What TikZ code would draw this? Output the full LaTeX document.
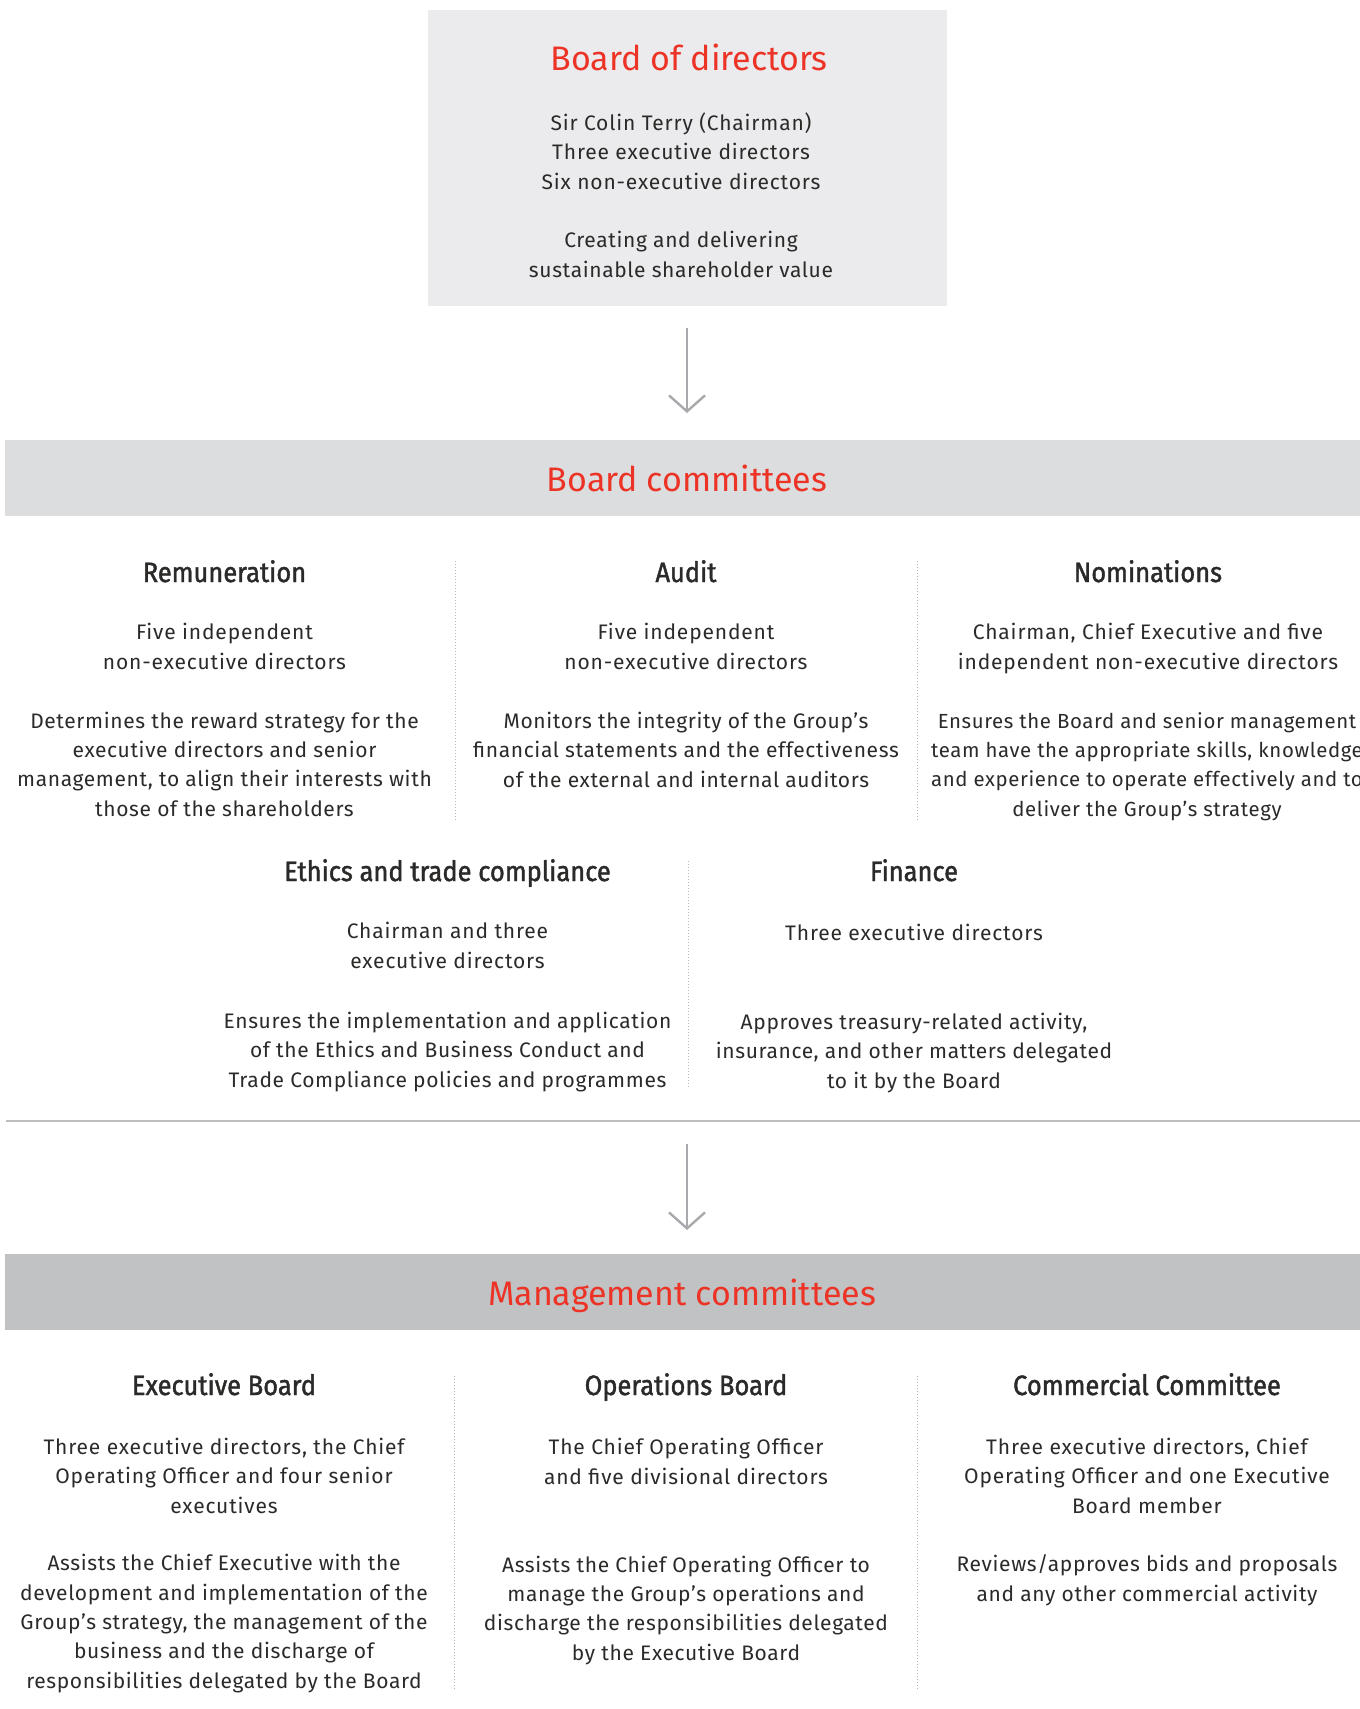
\documentclass[tikz,border=0pt]{standalone}
\usepackage{fontspec}
\setmainfont{Fira Sans}
% weights of the Fira Sans family, with fall-backs
\IfFontExistsTF{FiraSans-Light.otf}
  {\newfontfamily\descfont{FiraSans-Light.otf}[LetterSpace=3.0]}
  {\newfontfamily\descfont{Fira Sans}[LetterSpace=3.0]}
\IfFontExistsTF{FiraSans-Medium.otf}
  {\newfontfamily\medfont{FiraSans-Medium.otf}[LetterSpace=4]
   \newfontfamily\titlefont{FiraSans-Medium.otf}}
  {\newfontfamily\medfont{Fira Sans}[LetterSpace=4]
   \newfontfamily\titlefont{Fira Sans}}
\IfFontExistsTF{FiraSans-Bold.otf}
  {\newfontfamily\headfont{FiraSans-Bold.otf}[FakeStretch=0.91]}
  {\newfontfamily\headfont{Fira Sans}[FakeBold=1.5,FakeStretch=0.91]}
\usetikzlibrary{arrows.meta}

\definecolor{brandred}{HTML}{EC3325}
\definecolor{ink}{HTML}{2B2A29}
\definecolor{boxgray}{HTML}{EBEBED}
\definecolor{bandlight}{HTML}{DCDDDF}
\definecolor{banddark}{HTML}{C1C2C4}
\definecolor{rulegray}{HTML}{BCBDBF}
\definecolor{arrowgray}{HTML}{A7A9AC}
\definecolor{dotgray}{HTML}{B5B5B5}

\begin{document}
% multi-line texts are placed by the baseline of their last line
\begin{tikzpicture}[x=1pt,y=-1pt,
  headtxt/.style={font=\headfont\fontsize{28}{30}\selectfont, text=ink, anchor=base, inner sep=0pt},
  subtxt/.style={font=\medfont\fontsize{21}{29.2}\selectfont, text=ink, align=center, anchor=base, inner sep=0pt},
  desctxt/.style={font=\descfont\fontsize{21}{29.3}\selectfont, text=ink, align=center, anchor=base, inner sep=0pt},
  narrowdesc/.style={desctxt, font=\descfont\fontsize{20.4}{29.3}\selectfont},
  redtitle/.style={font=\titlefont\fontsize{34}{40}\selectfont, text=brandred, anchor=base, inner sep=0pt},
  panel/.style={anchor=north west, inner sep=0pt, outer sep=0pt},
  divider/.style={draw=dotgray, line width=1pt, dash pattern=on 1pt off 2pt},
  flow/.style={draw=arrowgray, line width=2.4pt, -{Straight Barb[length=16pt,width=36pt]}}]

\useasboundingbox (0,0) rectangle (1360,1709);

% ---------- Board of directors ----------
\node[panel, fill=boxgray, minimum width=519.5pt, minimum height=296pt] (board) at (427.5,10) {};
\node[redtitle] (boardtitle) at (689,70) {Board of directors};
\node[subtxt] (boardmembers) at (681,189) {Sir Colin Terry (Chairman)\\Three executive directors\\Six non-executive directors};
\node[desctxt] (boardaim) at (681,277) {Creating and delivering\\sustainable shareholder value};

% ---------- Board committees band ----------
\node[panel, fill=bandlight, minimum width=1355pt, minimum height=76pt] (bandone) at (5,440) {};
\node[redtitle] (bctitle) at (687,491) {Board committees};

\draw[flow, shorten <=22pt, shorten >=27pt] (board.south -| bctitle) -- (bandone.north -| bctitle);

% first row of board committees
\node[headtxt] (remhead) at (224.5,582) {Remuneration};
\node[subtxt] (remsub) at (224.5,669) {Five independent\\non-executive directors};
\node[desctxt] (remdesc) at (224.5,816) {Determines the reward strategy for the\\executive directors and senior\\management, to align their interests with\\those of the shareholders};

\node[headtxt] (audhead) at (686,582) {Audit};
\node[subtxt] (audsub) at (686,669) {Five independent\\non-executive directors};
\node[desctxt] (auddesc) at (686,787) {Monitors the integrity of the Group’s\\financial statements and the effectiveness\\of the external and internal auditors};

\node[headtxt] (nomhead) at (1148,582) {Nominations};
\node[subtxt] (nomsub) at (1148,669) {Chairman, Chief Executive and five\\independent non-executive directors};
\node[narrowdesc] (nomdesc) at (1147,816) {Ensures the Board and senior management\\team have the appropriate skills, knowledge\\and experience to operate effectively and to\\deliver the Group’s strategy};

\coordinate (d1top) at (455,561);  \coordinate (d1bot) at (455,820);
\coordinate (d2top) at (917,561);  \coordinate (d2bot) at (917,820);
\draw[divider] (d1top) -- (d1bot);
\draw[divider] (d2top) -- (d2bot);

% second row of board committees
\node[headtxt] (ethhead) at (447.5,881) {Ethics and trade compliance};
\node[subtxt] (ethsub) at (447.5,968) {Chairman and three\\executive directors};
\node[desctxt] (ethdesc) at (447.5,1087) {Ensures the implementation and application\\of the Ethics and Business Conduct and\\Trade Compliance policies and programmes};

\node[headtxt] (finhead) at (914,881) {Finance};
\node[subtxt] (finsub) at (914,940) {Three executive directors};
\node[desctxt] (findesc) at (914,1088) {Approves treasury-related activity,\\insurance, and other matters delegated\\to it by the Board};

\coordinate (d3top) at (688,861);  \coordinate (d3bot) at (688,1087);
\draw[divider] (d3top) -- (d3bot);

% rule closing the board committees
\coordinate (sepL) at (6,1121);  \coordinate (sepR) at (1360,1121);
\draw[draw=rulegray, line width=2pt] (sepL) -- (sepR);
\coordinate (sepmid) at (687,1121);

% ---------- Management committees band ----------
\node[panel, fill=banddark, minimum width=1355pt, minimum height=76pt] (bandtwo) at (5,1254) {};
\node[redtitle] (mctitle) at (682,1305) {Management committees};

\draw[flow, shorten <=23pt, shorten >=24pt] (sepmid) -- (bandtwo.north -| sepmid);

\node[headtxt] (exehead) at (224,1395) {Executive Board};
\node[subtxt] (exesub) at (224,1513) {Three executive directors, the Chief\\Operating Officer and four senior\\executives};
\node[desctxt] (exedesc) at (224,1688) {Assists the Chief Executive with the\\development and implementation of the\\Group’s strategy, the management of the\\business and the discharge of\\responsibilities delegated by the Board};

\node[headtxt] (opshead) at (686,1395) {Operations Board};
\node[subtxt] (opssub) at (686,1484) {The Chief Operating Officer\\and five divisional directors};
\node[desctxt] (opsdesc) at (686,1660) {Assists the Chief Operating Officer to\\manage the Group’s operations and\\discharge the responsibilities delegated\\by the Executive Board};

\node[headtxt] (comhead) at (1147,1395) {Commercial Committee};
\node[subtxt] (comsub) at (1147,1513) {Three executive directors, Chief\\Operating Officer and one Executive\\Board member};
\node[desctxt] (comdesc) at (1147,1601) {Reviews/approves bids and proposals\\and any other commercial activity};

\coordinate (d4top) at (454,1376);  \coordinate (d4bot) at (454,1689);
\coordinate (d5top) at (917,1376);  \coordinate (d5bot) at (917,1689);
\draw[divider] (d4top) -- (d4bot);
\draw[divider] (d5top) -- (d5bot);

\end{tikzpicture}
\end{document}
